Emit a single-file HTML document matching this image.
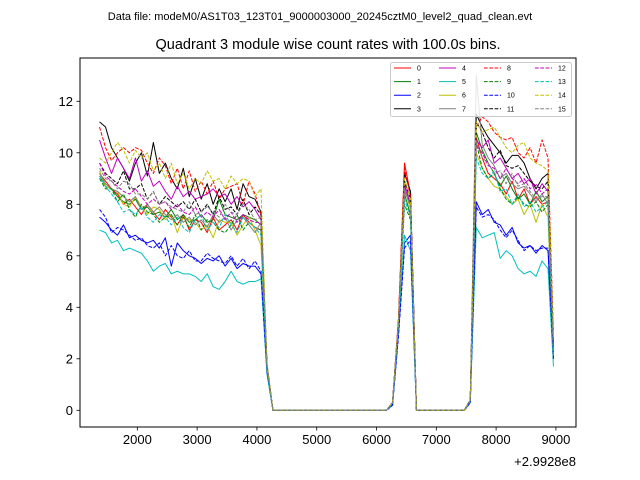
<!DOCTYPE html>
<html><head><meta charset="utf-8"><style>
body{margin:0;background:#fff;}
svg{display:block;font-family:"Liberation Sans","DejaVu Sans",sans-serif;}
</style></head><body>
<svg id="chart" width="640" height="480" viewBox="0 0 640 480">
<rect width="640" height="480" fill="#fff"/>
<text x="320" y="20" text-anchor="middle" font-size="11">Data file: modeM0/AS1T03_123T01_9000003000_20245cztM0_level2_quad_clean.evt</text>
<text x="328" y="49" text-anchor="middle" font-size="14.5">Quadrant 3 module wise count rates with 100.0s bins.</text>
<g id="plot"></g>
<g id="axes"></g>
<g id="legend"></g>
</svg>
<script>
const gap1=[0,0,0,0,0,0,0,0,0,0,0,0,0,0,0,0,0,0,0,0];
const gap2=[0,0,0,0,0,0,0,0,0];
const s0=[9.2,8.9,8.6,8.4,8.0,8.2,7.9,7.6,8.0,7.7,7.4,7.8,7.5,7.2,7.6,7.0,7.4,7.3,6.9,7.5,7.0,7.2,7.4,7.0,7.6,7.3,7.1,7.0,1.7,...gap1,0.3,3.6,9.6,8.4,...gap2,0.4,10.6,9.8,9.2,9.0,8.8,8.4,8.9,8.2,8.6,8.0,8.3,8.0,8.1,2.2];
const s1=[9.1,8.7,8.6,8.3,8.1,8.0,8.2,7.8,7.9,7.6,7.7,7.5,7.8,7.4,7.6,7.3,7.4,7.6,7.3,7.4,8.2,7.6,7.5,7.4,7.6,7.5,7.4,7.2,1.6,...gap1,0.3,3.4,8.4,7.6,...gap2,0.4,10.8,10.1,9.6,9.2,8.7,9.1,8.6,8.2,8.4,8.0,8.5,8.1,8.3,2.2];
const s2=[7.5,7.3,7.0,6.8,7.2,6.7,6.8,6.6,6.5,6.6,6.3,6.7,5.6,6.5,6.2,6.0,5.9,5.7,5.9,5.8,6.0,5.6,5.9,5.5,5.7,5.6,5.6,5.3,1.5,...gap1,0.2,3.0,6.5,6.8,...gap2,0.3,8.1,7.6,7.8,7.3,7.2,6.8,7.1,6.5,6.3,6.4,6.1,6.4,6.2,2.0];
const s3=[11.2,11.0,10.2,9.8,9.4,8.9,9.6,10.0,9.1,10.4,9.2,9.6,9.0,8.6,9.4,8.3,9.0,8.2,8.8,8.0,8.6,8.1,8.6,7.8,8.8,8.3,8.2,7.7,1.8,...gap1,0.3,3.5,9.2,8.5,...gap2,0.4,11.5,11.0,10.6,10.3,10.0,9.6,9.9,9.9,9.6,9.0,8.6,9.0,9.2,2.5];
const s4=[10.5,9.8,9.2,9.8,9.4,9.0,9.8,8.9,9.3,8.7,8.9,8.5,8.2,8.7,8.3,8.5,8.2,8.3,8.4,8.6,8.3,8.4,8.0,8.3,7.9,8.1,7.8,7.4,1.7,...gap1,0.3,3.5,8.8,8.0,...gap2,0.4,10.5,10.2,10.5,9.6,9.8,9.4,9.0,9.2,8.8,9.0,8.4,8.8,8.5,2.4];
const s5=[7.0,6.9,6.5,6.6,6.2,6.3,6.2,6.1,5.8,5.4,5.6,5.7,5.3,5.4,5.3,5.3,5.2,5.0,5.3,4.8,4.7,5.0,5.4,5.0,4.9,5.0,5.0,5.1,1.4,...gap1,0.2,3.0,6.8,6.2,...gap2,0.3,7.1,6.7,6.8,6.9,5.9,6.2,6.0,5.5,5.3,5.4,5.2,5.8,5.5,1.7];
const s6=[9.3,8.7,8.6,8.5,8.0,7.9,8.3,7.9,7.6,7.9,7.8,7.4,7.6,6.9,7.5,7.4,7.3,7.0,7.2,6.7,7.4,7.3,7.3,6.8,7.2,7.5,7.0,6.4,1.6,...gap1,0.3,3.4,8.6,7.8,...gap2,0.4,10.0,9.4,9.0,8.7,8.6,8.3,8.0,8.2,7.6,8.0,7.3,8.0,7.5,2.0];
const s7=[9.2,8.8,8.6,8.5,8.3,8.1,8.3,7.8,8.0,7.7,7.9,7.6,7.4,7.6,7.3,7.5,7.2,7.4,7.1,7.6,7.3,7.5,7.0,7.4,7.5,7.2,6.9,7.3,1.6,...gap1,0.3,3.5,8.5,8.0,...gap2,0.4,13.0,10.3,9.8,9.5,9.0,9.2,8.8,8.6,8.7,8.4,8.1,8.4,8.0,2.2];
const s8=[11.0,10.2,9.7,10.0,10.2,10.0,10.2,10.1,9.6,9.2,9.8,9.5,8.8,9.4,8.6,9.3,8.5,8.9,8.4,8.9,8.2,8.6,8.7,8.8,8.0,8.9,8.4,7.6,1.8,...gap1,0.3,3.6,9.4,8.3,...gap2,0.4,11.0,11.4,11.2,10.8,10.6,10.5,10.6,10.0,9.8,10.2,9.6,10.5,9.8,3.0];
const s9=[9.0,8.6,8.6,8.1,8.4,7.8,7.5,8.0,7.7,7.6,7.3,7.5,7.6,7.2,7.5,7.1,7.6,7.0,7.4,7.3,7.0,6.9,7.2,7.6,7.0,7.3,7.1,7.0,1.6,...gap1,0.3,3.3,8.0,7.4,...gap2,0.4,10.4,9.4,9.0,9.2,8.6,8.2,8.0,8.3,8.0,7.9,8.1,7.7,8.0,2.1];
const s10=[7.8,7.5,6.9,7.1,7.0,6.8,6.6,6.7,6.4,6.3,6.5,6.0,6.4,6.0,5.9,6.2,5.8,5.8,6.1,5.9,5.8,5.7,6.0,5.6,5.9,5.5,5.8,5.4,1.5,...gap1,0.2,2.9,6.3,6.6,...gap2,0.3,7.9,7.5,7.6,7.4,7.0,6.7,7.0,6.6,6.2,6.4,6.2,6.3,6.3,2.0];
const s11=[9.6,9.2,9.0,8.8,9.3,8.6,8.6,8.8,8.2,8.5,8.0,8.3,8.1,7.9,8.1,7.8,8.2,7.7,8.0,7.6,8.3,7.8,7.9,7.6,8.2,7.6,7.9,7.6,1.7,...gap1,0.3,3.4,8.9,8.2,...gap2,0.4,11.2,10.8,10.2,9.8,10.1,9.5,9.4,9.5,9.2,8.9,8.7,8.6,8.9,2.5];
const s12=[9.6,9.1,8.9,8.7,8.5,8.4,8.6,8.3,8.0,8.2,8.0,8.1,7.8,8.0,7.7,7.6,7.9,7.5,7.7,7.5,7.8,7.4,7.7,7.3,7.6,7.4,7.3,7.3,1.7,...gap1,0.3,3.4,8.7,8.0,...gap2,0.4,10.3,10.0,9.5,9.4,9.0,9.4,9.0,8.8,9.0,8.6,8.8,8.4,8.6,2.4];
const s13=[9.1,8.7,8.4,8.1,7.7,7.8,7.6,7.9,7.5,7.3,7.6,7.5,7.2,7.5,7.1,6.9,7.4,7.6,7.0,7.3,7.1,7.6,7.2,6.9,7.5,7.3,7.1,6.8,1.6,...gap1,0.3,3.3,8.2,7.5,...gap2,0.4,9.8,9.2,9.0,9.3,8.5,8.6,8.0,8.4,7.9,8.1,7.7,7.9,8.1,2.1];
const s14=[9.8,9.6,10.0,10.4,10.1,9.6,10.1,9.8,10.0,9.3,9.6,9.0,9.6,8.8,9.2,8.6,9.0,8.8,9.3,8.9,9.0,8.6,9.1,8.8,9.0,8.9,8.3,8.6,1.8,...gap1,0.3,3.5,9.0,8.2,...gap2,0.4,11.2,10.8,10.9,11.0,10.6,10.2,10.0,10.3,10.4,9.8,9.6,9.5,9.3,2.8];
const s15=[9.4,9.0,8.9,8.6,8.9,8.8,8.4,8.4,8.2,8.5,8.0,8.1,7.9,7.8,7.7,8.1,7.6,7.7,7.9,7.7,7.5,8.0,7.7,7.6,8.0,7.8,7.4,7.5,1.7,...gap1,0.3,3.4,8.6,7.9,...gap2,0.4,10.4,9.8,9.6,9.2,9.3,8.8,9.2,8.7,8.8,8.5,8.2,8.3,8.3,2.3];
const series=[s0,s1,s2,s3,s4,s5,s6,s7,s8,s9,s10,s11,s12,s13,s14,s15];
const seriesLabels=["0","1","2","3","4","5","6","7","8","9","10","11","12","13","14","15"];
const times=[];
for(let t=1368;t<=8868;t+=100) times.push(t);
times.push(8959);
const xTicks=[2000,3000,4000,5000,6000,7000,8000,9000];
const yTicks=[0,2,4,6,8,10,12];

const colors=["#ff0000","#008000","#0000ff","#000000","#bf00bf","#00bfbf","#bfbf00","#808080"];
const L=80,R=576,T=58,B=427;
const xmin=1041,xmax=9336;
const X=v=>L+(v-xmin)/(xmax-xmin)*(R-L);
const Y=v=>410.3-(v-0)*(410.3-101.3)/12;
const NS="http://www.w3.org/2000/svg";
function mk(tag,attrs,parent){const e=document.createElementNS(NS,tag);for(const k in attrs)e.setAttribute(k,attrs[k]);parent.appendChild(e);return e;}
const plot=document.getElementById('plot'),axes=document.getElementById('axes'),leg=document.getElementById('legend');
series.forEach((s,i)=>{
  const d=s.map((v,j)=>(j?'L':'M')+X(times[j]).toFixed(2)+' '+Y(v).toFixed(2)).join(' ');
  const a={d:d,fill:'none',stroke:colors[i%8],'stroke-width':1,'stroke-linejoin':'round'};
  if(i>=8)a['stroke-dasharray']='3.7 1.6';
  const p=mk('path',a,plot);
  
  
});
const frame=mk('rect',{x:L,y:T,width:R-L,height:B-T,fill:'none',stroke:'#000','stroke-width':1},axes);


xTicks.forEach(v=>{
  const x=X(v);
  const tk=mk('line',{x1:x,x2:x,y1:B,y2:B+3.5,stroke:'#000','stroke-width':0.8},axes);
  
  
  const t=mk('text',{x:x,y:B+17,'text-anchor':'middle','font-size':13},axes);
  t.textContent=v;
  
  
});
yTicks.forEach(v=>{
  const y=Y(v);
  const tk=mk('line',{x1:L-3.5,x2:L,y1:y,y2:y,stroke:'#000','stroke-width':0.8},axes);
  
  
  const t=mk('text',{x:L-7,y:y+4.5,'text-anchor':'end','font-size':13},axes);
  t.textContent=v;
  
  
});
const off=mk('text',{x:576,y:466,'text-anchor':'end','font-size':13},axes);
off.textContent='+2.9928e8';


const lb=mk('rect',{x:390.5,y:62.5,width:181,height:54,rx:2,fill:'#fff','fill-opacity':0.8,stroke:'#ccc','stroke-width':1},leg);


const colX=[394,439,484,535];
series.forEach((s,i)=>{
  const c=Math.floor(i/4),r=i%4;
  const x=colX[c],y=68+r*13.6;
  const a={x1:x,x2:x+17,y1:y,y2:y,stroke:colors[i%8],'stroke-width':1};
  if(i>=8)a['stroke-dasharray']='3.7 1.6';
  const ln=mk('line',a,leg);
  
  
  const t=mk('text',{x:x+23,y:y+2.5,'font-size':7},leg);
  t.textContent=seriesLabels[i];
  
  
});
</script>
</body></html>
